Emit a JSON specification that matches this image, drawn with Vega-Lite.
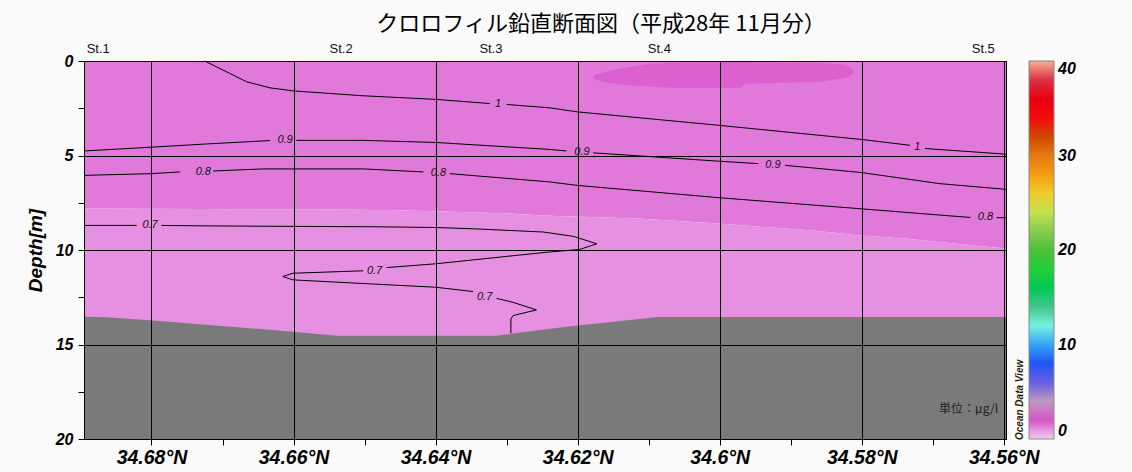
{
  "$schema": "https://vega.github.io/schema/vega-lite/v6.json",
  "width": 922,
  "height": 378,
  "autosize": {"type": "none"},
  "padding": {"left": 84, "top": 61, "right": 126, "bottom": 33},
  "background": "#fafafa",
  "config": {
    "view": {"stroke": "#000", "strokeWidth": 1},
    "axis": {"domainColor": "#000", "tickColor": "#000", "labelColor": "#000"}
  },
  "title": {
    "text": "クロロフィル鉛直断面図（平成28年 11月分）",
    "font": "Noto Sans CJK JP",
    "fontSize": 22,
    "fontWeight": "normal",
    "color": "#000",
    "anchor": "middle",
    "frame": "group",
    "dx": 56,
    "offset": 7
  },
  "datasets": {
    "fill": [
      {"region": "A", "lat": 34.6895, "d": 0, "d2": 7.81, "chl": 0.9},
      {"region": "A", "lat": 34.6570, "d": 0, "d2": 7.85, "chl": 0.9},
      {"region": "A", "lat": 34.6450, "d": 0, "d2": 7.90, "chl": 0.9},
      {"region": "A", "lat": 34.6352, "d": 0, "d2": 8.00, "chl": 0.9},
      {"region": "A", "lat": 34.6291, "d": 0, "d2": 8.08, "chl": 0.9},
      {"region": "A", "lat": 34.6250, "d": 0, "d2": 8.17, "chl": 0.9},
      {"region": "A", "lat": 34.6116, "d": 0, "d2": 8.33, "chl": 0.9},
      {"region": "A", "lat": 34.6002, "d": 0, "d2": 8.60, "chl": 0.9},
      {"region": "A", "lat": 34.5869, "d": 0, "d2": 8.97, "chl": 0.9},
      {"region": "A", "lat": 34.5802, "d": 0, "d2": 9.23, "chl": 0.9},
      {"region": "A", "lat": 34.5736, "d": 0, "d2": 9.40, "chl": 0.9},
      {"region": "A", "lat": 34.5643, "d": 0, "d2": 9.76, "chl": 0.9},
      {"region": "A", "lat": 34.5597, "d": 0, "d2": 9.92, "chl": 0.9},
      {"region": "B", "lat": 34.6895, "d": 7.81, "d2": 20, "chl": 0.72},
      {"region": "B", "lat": 34.6570, "d": 7.85, "d2": 20, "chl": 0.72},
      {"region": "B", "lat": 34.6450, "d": 7.90, "d2": 20, "chl": 0.72},
      {"region": "B", "lat": 34.6352, "d": 8.00, "d2": 20, "chl": 0.72},
      {"region": "B", "lat": 34.6291, "d": 8.08, "d2": 20, "chl": 0.72},
      {"region": "B", "lat": 34.6250, "d": 8.17, "d2": 20, "chl": 0.72},
      {"region": "B", "lat": 34.6116, "d": 8.33, "d2": 20, "chl": 0.72},
      {"region": "B", "lat": 34.6002, "d": 8.60, "d2": 20, "chl": 0.72},
      {"region": "B", "lat": 34.5869, "d": 8.97, "d2": 20, "chl": 0.72},
      {"region": "B", "lat": 34.5802, "d": 9.23, "d2": 20, "chl": 0.72},
      {"region": "B", "lat": 34.5736, "d": 9.40, "d2": 20, "chl": 0.72},
      {"region": "B", "lat": 34.5643, "d": 9.76, "d2": 20, "chl": 0.72},
      {"region": "B", "lat": 34.5597, "d": 9.92, "d2": 20, "chl": 0.72}
    ],
    "patch": [
      {"lat": 34.6177, "d": 0.75, "d2": 0.95, "chl": 1.05},
      {"lat": 34.6159, "d": 0.55, "d2": 1.15, "chl": 1.05},
      {"lat": 34.6126, "d": 0.30, "d2": 1.30, "chl": 1.05},
      {"lat": 34.6098, "d": 0.15, "d2": 1.35, "chl": 1.05},
      {"lat": 34.6070, "d": 0.08, "d2": 1.42, "chl": 1.05},
      {"lat": 34.5971, "d": 0.05, "d2": 1.42, "chl": 1.05},
      {"lat": 34.5964, "d": 0.05, "d2": 1.20, "chl": 1.05},
      {"lat": 34.5859, "d": 0.10, "d2": 1.10, "chl": 1.05},
      {"lat": 34.5823, "d": 0.20, "d2": 0.90, "chl": 1.05},
      {"lat": 34.5812, "d": 0.45, "d2": 0.65, "chl": 1.05}
    ],
    "bottom": [
      {"lat": 34.6895, "d": 13.53},
      {"lat": 34.6863, "d": 13.56},
      {"lat": 34.6793, "d": 13.74},
      {"lat": 34.6601, "d": 14.32},
      {"lat": 34.6539, "d": 14.54},
      {"lat": 34.6314, "d": 14.54},
      {"lat": 34.6281, "d": 14.36},
      {"lat": 34.6201, "d": 14.0},
      {"lat": 34.6169, "d": 13.88},
      {"lat": 34.6087, "d": 13.55},
      {"lat": 34.5597, "d": 13.55}
    ],
    "contours": [
      {"s": "1a", "o": 1, "lat": 34.6725, "d": 0},
      {"s": "1a", "o": 2, "lat": 34.6690, "d": 0.65},
      {"s": "1a", "o": 3, "lat": 34.6666, "d": 1.1},
      {"s": "1a", "o": 4, "lat": 34.6633, "d": 1.42},
      {"s": "1a", "o": 5, "lat": 34.6601, "d": 1.58},
      {"s": "1a", "o": 6, "lat": 34.6502, "d": 1.84},
      {"s": "1a", "o": 7, "lat": 34.6400, "d": 2.03},
      {"s": "1a", "o": 8, "lat": 34.6324, "d": 2.25},
      {"s": "1b", "o": 1, "lat": 34.6300, "d": 2.3},
      {"s": "1b", "o": 2, "lat": 34.6239, "d": 2.48},
      {"s": "1b", "o": 3, "lat": 34.6201, "d": 2.69},
      {"s": "1b", "o": 4, "lat": 34.6002, "d": 3.4},
      {"s": "1b", "o": 5, "lat": 34.5801, "d": 4.15},
      {"s": "1b", "o": 6, "lat": 34.5732, "d": 4.46},
      {"s": "1c", "o": 1, "lat": 34.5711, "d": 4.63},
      {"s": "1c", "o": 2, "lat": 34.5597, "d": 4.93},
      {"s": "9a", "o": 1, "lat": 34.6895, "d": 4.76},
      {"s": "9a", "o": 2, "lat": 34.6800, "d": 4.56},
      {"s": "9a", "o": 3, "lat": 34.6723, "d": 4.39},
      {"s": "9a", "o": 4, "lat": 34.6633, "d": 4.21},
      {"s": "9b", "o": 1, "lat": 34.6596, "d": 4.2},
      {"s": "9b", "o": 2, "lat": 34.6502, "d": 4.2},
      {"s": "9b", "o": 3, "lat": 34.6400, "d": 4.31},
      {"s": "9b", "o": 4, "lat": 34.6239, "d": 4.68},
      {"s": "9b", "o": 5, "lat": 34.6216, "d": 4.76},
      {"s": "9c", "o": 1, "lat": 34.6178, "d": 4.86},
      {"s": "9c", "o": 2, "lat": 34.6002, "d": 5.3},
      {"s": "9c", "o": 3, "lat": 34.5946, "d": 5.43},
      {"s": "9d", "o": 1, "lat": 34.5908, "d": 5.52},
      {"s": "9d", "o": 2, "lat": 34.5801, "d": 5.9},
      {"s": "9d", "o": 3, "lat": 34.5690, "d": 6.49},
      {"s": "9d", "o": 4, "lat": 34.5597, "d": 6.79},
      {"s": "8a", "o": 1, "lat": 34.6895, "d": 6.05},
      {"s": "8a", "o": 2, "lat": 34.6800, "d": 5.96},
      {"s": "8a", "o": 3, "lat": 34.6760, "d": 5.87},
      {"s": "8b", "o": 1, "lat": 34.6713, "d": 5.82},
      {"s": "8b", "o": 2, "lat": 34.6643, "d": 5.71},
      {"s": "8b", "o": 3, "lat": 34.6502, "d": 5.71},
      {"s": "8b", "o": 4, "lat": 34.6417, "d": 5.87},
      {"s": "8c", "o": 1, "lat": 34.6380, "d": 5.96},
      {"s": "8c", "o": 2, "lat": 34.6239, "d": 6.4},
      {"s": "8c", "o": 3, "lat": 34.6201, "d": 6.58},
      {"s": "8c", "o": 4, "lat": 34.6002, "d": 7.23},
      {"s": "8c", "o": 5, "lat": 34.5801, "d": 7.82},
      {"s": "8c", "o": 6, "lat": 34.5647, "d": 8.28},
      {"s": "8d", "o": 1, "lat": 34.5610, "d": 8.29},
      {"s": "8d", "o": 2, "lat": 34.5597, "d": 8.29},
      {"s": "7a", "o": 1, "lat": 34.6895, "d": 8.7},
      {"s": "7a", "o": 2, "lat": 34.6821, "d": 8.7},
      {"s": "7b", "o": 1, "lat": 34.6786, "d": 8.7},
      {"s": "7b", "o": 2, "lat": 34.6737, "d": 8.72},
      {"s": "7b", "o": 3, "lat": 34.6657, "d": 8.74},
      {"s": "7b", "o": 4, "lat": 34.6488, "d": 8.77},
      {"s": "7b", "o": 5, "lat": 34.6400, "d": 8.81},
      {"s": "7b", "o": 6, "lat": 34.6345, "d": 8.88},
      {"s": "7b", "o": 7, "lat": 34.6248, "d": 9.05},
      {"s": "7b", "o": 8, "lat": 34.6206, "d": 9.28},
      {"s": "7b", "o": 9, "lat": 34.6173, "d": 9.67},
      {"s": "7b", "o": 10, "lat": 34.6197, "d": 9.97},
      {"s": "7b", "o": 11, "lat": 34.6244, "d": 10.12},
      {"s": "7b", "o": 12, "lat": 34.6400, "d": 10.73},
      {"s": "7b", "o": 13, "lat": 34.6469, "d": 10.93},
      {"s": "7c", "o": 1, "lat": 34.6502, "d": 11.1},
      {"s": "7c", "o": 2, "lat": 34.6601, "d": 11.23},
      {"s": "7c", "o": 3, "lat": 34.6615, "d": 11.4},
      {"s": "7c", "o": 4, "lat": 34.6601, "d": 11.58},
      {"s": "7c", "o": 5, "lat": 34.6493, "d": 11.79},
      {"s": "7c", "o": 6, "lat": 34.6400, "d": 11.97},
      {"s": "7c", "o": 7, "lat": 34.6347, "d": 12.2},
      {"s": "7d", "o": 1, "lat": 34.6314, "d": 12.56},
      {"s": "7d", "o": 2, "lat": 34.6291, "d": 12.77},
      {"s": "7d", "o": 3, "lat": 34.6258, "d": 13.17},
      {"s": "7d", "o": 4, "lat": 34.6291, "d": 13.47},
      {"s": "7d", "o": 5, "lat": 34.6294, "d": 13.65},
      {"s": "7d", "o": 6, "lat": 34.6294, "d": 14.41}
    ],
    "labels": [
      {"t": "1", "lat": 34.6312, "d": 2.28},
      {"t": "1", "lat": 34.5722, "d": 4.55},
      {"t": "0.9", "lat": 34.6612, "d": 4.2},
      {"t": "0.9", "lat": 34.6194, "d": 4.81},
      {"t": "0.9", "lat": 34.5925, "d": 5.48},
      {"t": "0.8", "lat": 34.6727, "d": 5.87},
      {"t": "0.8", "lat": 34.6396, "d": 5.92},
      {"t": "0.8", "lat": 34.5626, "d": 8.28},
      {"t": "0.7", "lat": 34.6802, "d": 8.7},
      {"t": "0.7", "lat": 34.6486, "d": 11.09},
      {"t": "0.7", "lat": 34.6331, "d": 12.47}
    ],
    "stations": [
      {"st": "St.1", "lat": 34.6875, "d": 0},
      {"st": "St.2", "lat": 34.6533, "d": 0},
      {"st": "St.3", "lat": 34.6322, "d": 0},
      {"st": "St.4", "lat": 34.6085, "d": 0},
      {"st": "St.5", "lat": 34.5629, "d": 0}
    ],
    "unit": [
      {"t": "単位：μg/l", "lat": 34.5608, "d": 18.4}
    ]
  },
  "encoding": {
    "x": {
      "field": "lat", "type": "quantitative",
      "scale": {"domain": [34.5597, 34.6895], "reverse": true, "nice": false, "zero": false},
      "axis": {
        "title": null,
        "values": [34.56, 34.57, 34.58, 34.59, 34.60, 34.61, 34.62, 34.63, 34.64, 34.65, 34.66, 34.67, 34.68],
        "labelExpr": "round(datum.value*100) % 2 == 0 ? format(datum.value, '.2~f') + '°N' : ''",
        "grid": true,
        "gridColor": "#000",
        "gridWidth": 1,
        "gridOpacity": {"condition": {"test": "round(datum.value*100) % 2 == 0", "value": 1}, "value": 0},
        "tickSize": 6,
        "tickWidth": 1,
        "labelFont": "Liberation Sans",
        "labelFontSize": 19.5,
        "labelFontWeight": "bold",
        "labelFontStyle": "italic",
        "labelPadding": 3,
        "labelFlush": false,
        "labelOverlap": false,
        "zindex": 1
      }
    },
    "y": {
      "field": "d", "type": "quantitative",
      "scale": {"domain": [0, 20], "reverse": true, "nice": false, "zero": false},
      "axis": {
        "title": "Depth[m]",
        "titleFont": "Liberation Sans",
        "titleFontSize": 19,
        "titleFontWeight": "bold",
        "titleFontStyle": "italic",
        "titleColor": "#000",
        "titleAngle": 270,
        "titleX": -49,
        "titleY": 189,
        "titleAlign": "center",
        "titleBaseline": "middle",
        "values": [0, 2.5, 5, 7.5, 10, 12.5, 15, 17.5, 20],
        "labelExpr": "datum.value % 5 == 0 ? format(datum.value, 'd') : ''",
        "grid": true,
        "gridColor": "#000",
        "gridWidth": 1,
        "gridOpacity": {"condition": {"test": "datum.value % 5 == 0", "value": 1}, "value": 0},
        "tickSize": 6,
        "labelFont": "Liberation Sans",
        "labelFontSize": 16,
        "labelFontWeight": "bold",
        "labelFontStyle": "italic",
        "labelPadding": 5,
        "labelFlush": false,
        "labelOverlap": false,
        "zindex": 1
      }
    }
  },
  "layer": [
    {
      "data": {"name": "fill"},
      "mark": {"type": "area", "interpolate": "linear"},
      "encoding": {
        "y2": {"field": "d2"},
        "detail": {"field": "region"},
        "color": {
          "field": "chl", "type": "quantitative",
          "scale": {
            "domain": [0, 0.72, 0.9, 1.05, 1.8, 3, 4, 5, 6.3, 7.5, 9, 10.5, 12, 13.5, 15, 17, 19, 21, 23, 24.7, 26.5, 28.5, 30.5, 32, 33.5, 35.5, 37, 38.5, 40],
            "range": ["#f4ccf2", "#e590e0", "#e079d9", "#dc60d0", "#d84cc8", "#c878c0", "#c098c0", "#9c90d0", "#5050e8", "#2840f0", "#3478f0", "#50b8f8", "#78f0e0", "#50d0a0", "#20b060", "#00e040", "#30c030", "#60c040", "#a8d860", "#d8e840", "#f8c028", "#f89010", "#e07010", "#d04800", "#f81010", "#f00000", "#d00020", "#e04058", "#f8b090"]
          },
          "legend": {
            "type": "gradient",
            "orient": "none",
            "legendX": 931,
            "legendY": 0,
            "direction": "vertical",
            "gradientLength": 378,
            "gradientThickness": 25,
            "gradientStrokeColor": "#888",
            "gradientStrokeWidth": 1,
            "values": [0, 10, 20, 30, 40],
            "labelFont": "Liberation Sans",
            "labelFontSize": 16,
            "labelFontWeight": "bold",
            "labelFontStyle": "italic",
            "labelColor": "#000",
            "labelOffset": 4,
            "labelOverlap": false,
            "title": "Ocean Data View",
            "titleOrient": "left",
            "titleAngle": 270,
            "titleAnchor": "start",
            "titleFont": "Liberation Sans",
            "titleFontSize": 10,
            "titleFontWeight": "bold",
            "titleFontStyle": "italic",
            "titleColor": "#2a2000",
            "titlePadding": 3
          }
        }
      }
    },
    {
      "data": {"name": "patch"},
      "mark": {"type": "area"},
      "encoding": {
        "y2": {"field": "d2"},
        "color": {"field": "chl", "type": "quantitative"}
      }
    },
    {
      "data": {"name": "bottom"},
      "mark": {"type": "area", "color": "#7a7a7a"},
      "encoding": {
        "y2": {"datum": 20}
      }
    },
    {
      "data": {"name": "contours"},
      "mark": {"type": "line", "color": "#000", "strokeWidth": 1},
      "encoding": {
        "detail": {"field": "s"},
        "order": {"field": "o", "type": "quantitative"}
      }
    },
    {
      "data": {"name": "labels"},
      "mark": {"type": "text", "font": "Liberation Sans", "fontSize": 11, "fontStyle": "italic", "color": "#111", "align": "center", "baseline": "middle"},
      "encoding": {
        "text": {"field": "t"}
      }
    },
    {
      "data": {"name": "stations"},
      "mark": {"type": "text", "font": "Liberation Sans", "fontSize": 13, "color": "#111", "align": "center", "baseline": "alphabetic", "dy": -8},
      "encoding": {
        "text": {"field": "st"}
      }
    },
    {
      "data": {"name": "unit"},
      "mark": {"type": "text", "font": "Noto Sans CJK JP", "fontSize": 12, "color": "#222", "align": "right", "baseline": "middle"},
      "encoding": {
        "text": {"field": "t"}
      }
    }
  ]
}
